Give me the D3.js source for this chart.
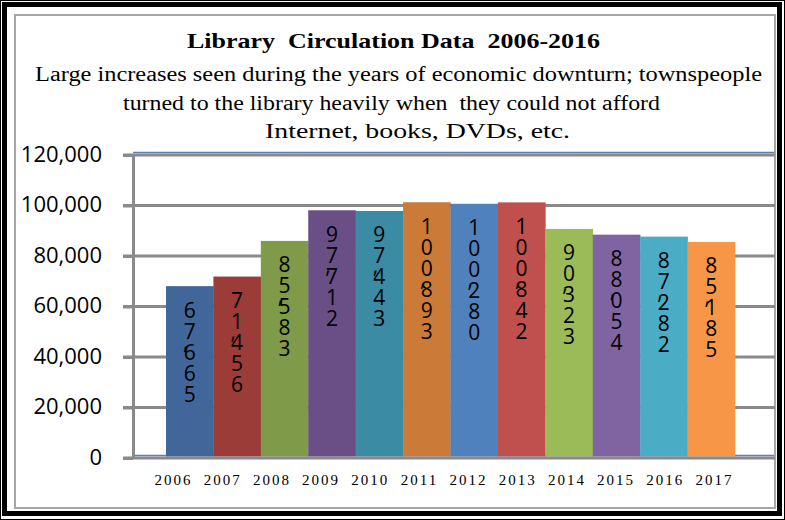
<!DOCTYPE html>
<html>
<head>
<meta charset="utf-8">
<script src="https://cdn.jsdelivr.net/npm/d3@7"></script>
<style>
  body { margin: 0; background: #fff; }
  svg { display: block; }
</style>
</head>
<body>
<svg id="chart"></svg>
<script>
// chart data
var years = ["2006", "2007", "2008", "2009", "2010", "2011",
             "2012", "2013", "2014", "2015", "2016", "2017"]
var circulation = [67665, 71456, 85583, 97712, 97443, 100893,
                   100280, 100842, 90323, 88054, 87282, 85185]
var barColors = ["#41679a", "#9b3c39", "#7f9a48", "#6a4f86", "#3a8ba3", "#cc7a38",
                 "#4f81bd", "#c0504d", "#9bbb59", "#8064a2", "#4bacc6", "#f79646"]
var yTicks = [0, 20000, 40000, 60000, 80000, 100000, 120000]
var title = "Library  Circulation Data  2006-2016"
var subtitle = [
  "Large increases seen during the years of economic downturn; townspeople",
  "turned to the library heavily when  they could not afford",
  "Internet, books, DVDs, etc."
]

var width = 785,
    height = 520,
    svg = d3.select("#chart").attr("width", width).attr("height", height),
    gridGray = "#8a8a8a",
    lineBlue = "#5a80b8"

var y = d3.scaleLinear().domain([0, 120000]).range([457, 154]),
    x = d3.scaleBand().domain(years).range([166, 735]).padding(0),
    xLab = d3.scaleBand().domain(years).range([148, 738]).padding(0)

// frame: thin black, thick black, gray inner
svg.append("rect")
  .attr("x", 0.5).attr("y", 0.5).attr("width", 784).attr("height", 519)
  .attr("fill", "none").attr("stroke", "#000").attr("stroke-width", 1)
svg.append("rect")
  .attr("x", 4.5).attr("y", 4.5).attr("width", 775).attr("height", 509)
  .attr("fill", "none").attr("stroke", "#000").attr("stroke-width", 5)
svg.append("rect")
  .attr("x", 15).attr("y", 15).attr("width", 760).attr("height", 493)
  .attr("fill", "none").attr("stroke", "#a6a6a6").attr("stroke-width", 2)

// titles (the original is stretched sideways, so glyphs are stretched too)
svg.append("text")
  .attr("x", 187).attr("y", 48)
  .attr("textLength", 413).attr("lengthAdjust", "spacingAndGlyphs")
  .style("font", "bold 22px 'Liberation Serif', serif")
  .style("white-space", "pre")
  .text(title)

var subPos = [[35, 81, 727], [123, 110, 537], [265, 138, 305]]
svg.append("g").selectAll("text")
  .data(subtitle)
  .enter().append("text")
    .attr("x", (d, i) => subPos[i][0])
    .attr("y", (d, i) => subPos[i][1])
    .attr("textLength", (d, i) => subPos[i][2])
    .attr("lengthAdjust", "spacingAndGlyphs")
    .style("font", "20px 'Liberation Serif', serif")
    .style("white-space", "pre")
    .text((d) => d)

// gridlines behind bars
svg.append("g").selectAll("line")
  .data(yTicks.filter((t) => t > 0))
  .enter().append("line")
    .attr("x1", 123).attr("x2", 775)
    .attr("y1", (d) => y(d) + 1).attr("y2", (d) => y(d) + 1)
    .attr("stroke", gridGray).attr("stroke-width", 3)

svg.append("g").selectAll("line")
  .data([0, 120000])
  .enter().append("line")
    .attr("x1", 133).attr("x2", 774)
    .attr("y1", (d) => y(d) - 1.5).attr("y2", (d) => y(d) - 1.5)
    .attr("stroke", lineBlue).attr("stroke-width", 1.6)

// bars
svg.append("g").selectAll("rect")
  .data(circulation)
  .enter().append("rect")
    .attr("x", (d, i) => x(years[i]))
    .attr("y", (d) => y(d))
    .attr("width", x.bandwidth() + 0.3)
    .attr("height", (d) => y(0) - y(d) - 0.5)
    .attr("fill", (d, i) => barColors[i])

// zero line on top
svg.append("line")
  .attr("x1", 123).attr("x2", 775)
  .attr("y1", y(0) + 1).attr("y2", y(0) + 1)
  .attr("stroke", gridGray).attr("stroke-width", 3)

// y axis
var yAxis = svg.append("g")
  .attr("transform", "translate(133,0)")
  .call(d3.axisLeft(y).tickValues(yTicks).tickSizeInner(10).tickSizeOuter(0)
          .tickPadding(21).tickFormat(d3.format(",")))
yAxis.select(".domain").attr("stroke", gridGray).attr("stroke-width", 3)
yAxis.selectAll(".tick line").attr("stroke", gridGray).attr("stroke-width", 3)
  .attr("transform", "translate(0,1)")
yAxis.selectAll(".tick text")
  .attr("fill", "#000")
  .style("font", "22px 'Open Sans', sans-serif")

// x labels
svg.append("g").selectAll("text")
  .data(years)
  .enter().append("text")
    .attr("x", (d) => xLab(d) + xLab.bandwidth() / 2 + 1)
    .attr("y", 485)
    .attr("text-anchor", "middle")
    .style("font", "15px 'Liberation Serif', serif")
    .style("letter-spacing", "2px")
    .text((d) => d)

// vertical stacked value labels, one text per bar
var fmt = d3.format(","),
    step = 21

svg.append("g")
  .style("font", "21px 'Open Sans', sans-serif")
  .attr("fill", "#000")
  .selectAll("text")
  .data(circulation)
  .enter().append("text")
    .attr("text-anchor", "middle")
    .each(function (v, i) {
      var cx = x(years[i]) + x.bandwidth() / 2,
          top = y(v) + 24 + 7.5,
          row = 0,
          t = d3.select(this)
      fmt(v).split("").forEach((c) => {
        if (c === ",") {
          t.append("tspan").attr("x", cx - 4).attr("y", top + row * step - 11).text(c)
        } else {
          t.append("tspan").attr("x", cx).attr("y", top + row * step).text(c)
          row++
        }
      })
    })
</script>
</body>
</html>
